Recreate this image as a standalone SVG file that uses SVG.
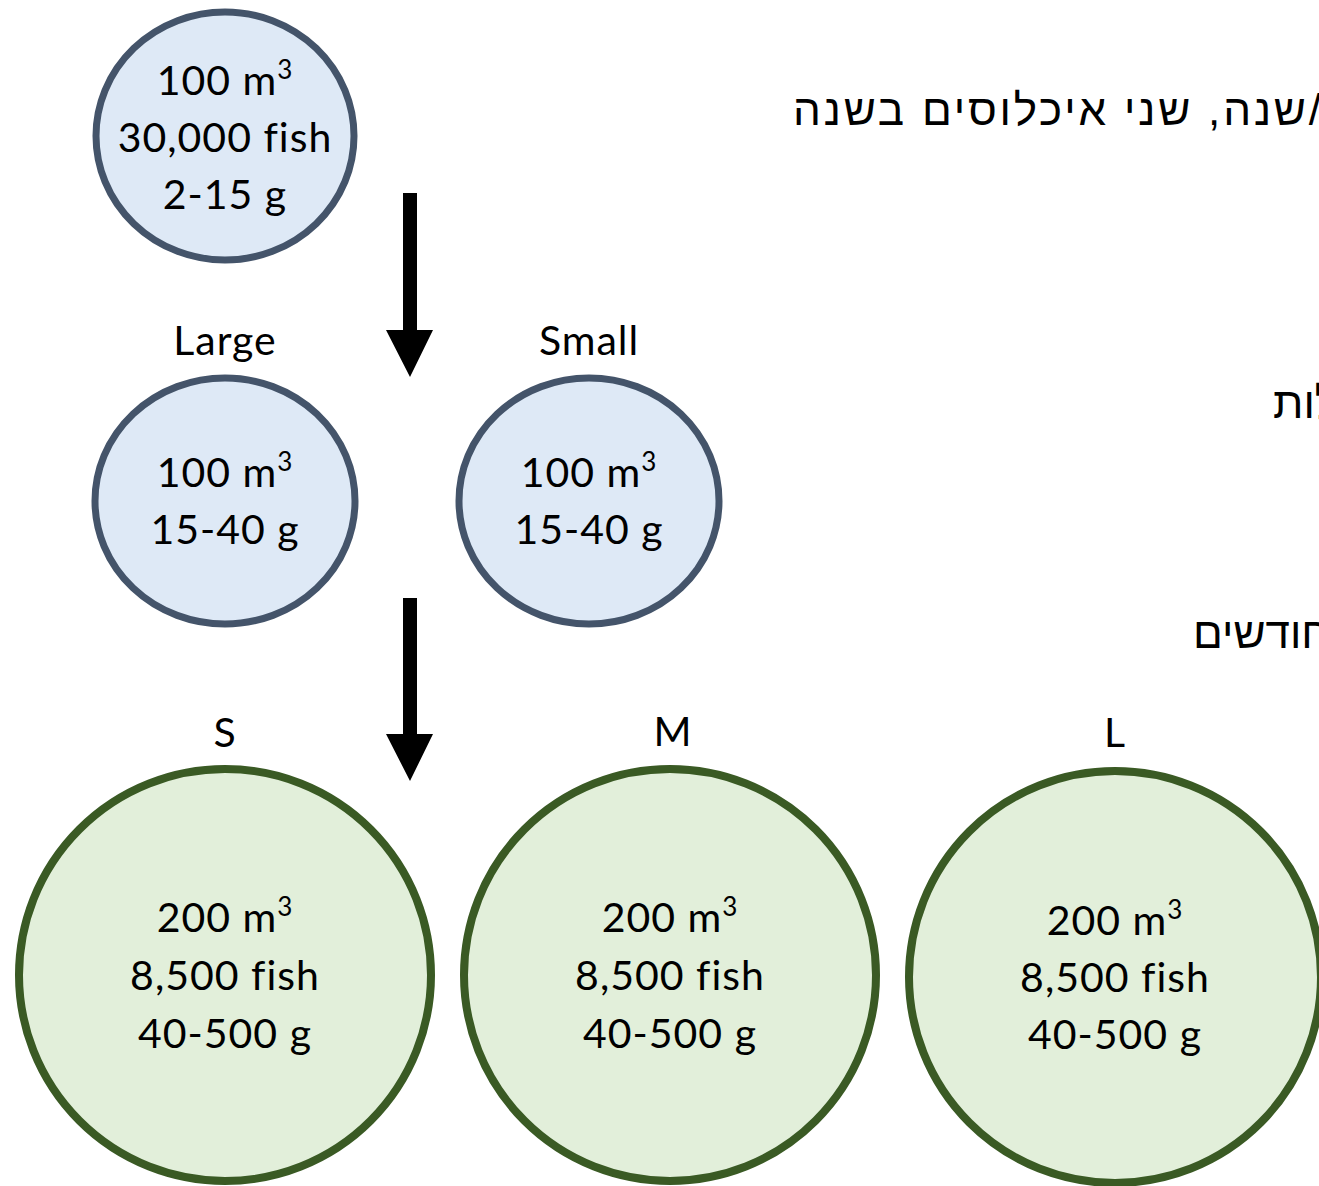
<svg xmlns="http://www.w3.org/2000/svg" width="1319" height="1186" viewBox="0 0 1319 1186">
<style>
.bg{fill:#ffffff}
.blue{fill:#dee9f6;stroke:#44546a;stroke-width:7}
.green{fill:#e2efda;stroke:#3a5a24;stroke-width:8}
.t{font-family:Lato,"Open Sans","Liberation Sans",sans-serif;font-size:41px;letter-spacing:1px;fill:#000;text-anchor:middle;font-variant-ligatures:none}
.sup{font-size:26px}
.he{font-family:"Liberation Sans","DejaVu Sans",sans-serif;font-size:44px;fill:#000}
.arrow{fill:#000}
</style>
<rect class="bg" x="0" y="0" width="1319" height="1186"/>

<g id="hebrew-text">
<text class="he" x="793" y="125" direction="rtl" text-anchor="end" textLength="528" lengthAdjust="spacing">/שנה, שני איכלוסים בשנה</text>
<text class="he" x="1273" y="418" direction="rtl" text-anchor="end">לות</text>
<text class="he" x="1193" y="648" direction="rtl" text-anchor="end">חודשים</text>
</g>

<g id="connectors">
<path class="arrow" d="M403,193 H417 V330 H433 L410,377 L386,330 H403 Z"/>
<path class="arrow" d="M403,598 H417 V734 H433 L410,781 L386,734 H403 Z"/>
</g>

<g id="node-nursery">
<ellipse class="blue" cx="225" cy="136" rx="129" ry="124"/>
<text class="t" x="225" y="95">100 m<tspan class="sup" dy="-16">3</tspan></text>
<text class="t" x="225" y="152">30,000 fish</text>
<text class="t" x="225" y="209">2-15 g</text>
</g>

<g id="node-large">
<text class="t" x="225" y="355">Large</text>
<ellipse class="blue" cx="225" cy="501" rx="130" ry="123"/>
<text class="t" x="225" y="487">100 m<tspan class="sup" dy="-16">3</tspan></text>
<text class="t" x="225" y="544">15-40 g</text>
</g>

<g id="node-small">
<text class="t" x="589" y="355">Small</text>
<ellipse class="blue" cx="589" cy="501" rx="130" ry="123"/>
<text class="t" x="589" y="487">100 m<tspan class="sup" dy="-16">3</tspan></text>
<text class="t" x="589" y="544">15-40 g</text>
</g>

<g id="node-S">
<text class="t" x="225" y="747">S</text>
<circle class="green" cx="225" cy="975" r="206"/>
<text class="t" x="225" y="932">200 m<tspan class="sup" dy="-16">3</tspan></text>
<text class="t" x="225" y="990">8,500 fish</text>
<text class="t" x="225" y="1048">40-500 g</text>
</g>

<g id="node-M">
<text class="t" x="673" y="746">M</text>
<circle class="green" cx="670" cy="975" r="206"/>
<text class="t" x="670" y="932">200 m<tspan class="sup" dy="-16">3</tspan></text>
<text class="t" x="670" y="990">8,500 fish</text>
<text class="t" x="670" y="1048">40-500 g</text>
</g>

<g id="node-L">
<text class="t" x="1115" y="747">L</text>
<circle class="green" cx="1115" cy="977" r="206"/>
<text class="t" x="1115" y="935">200 m<tspan class="sup" dy="-16">3</tspan></text>
<text class="t" x="1115" y="992">8,500 fish</text>
<text class="t" x="1115" y="1049">40-500 g</text>
</g>
</svg>
